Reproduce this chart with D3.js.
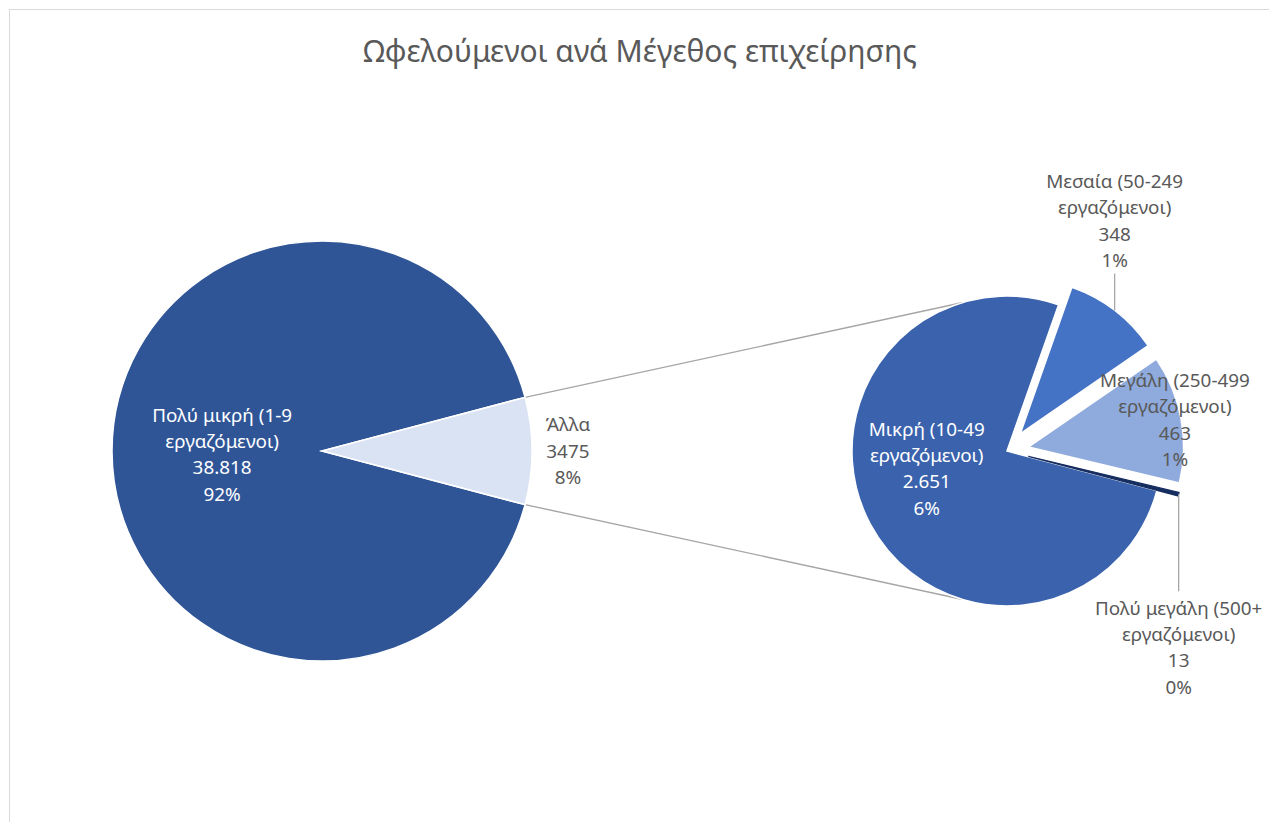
<!DOCTYPE html>
<html><head><meta charset="utf-8">
<script src="https://cdn.jsdelivr.net/npm/d3@7"></script>
<style>body{margin:0;background:#fff}svg{display:block}</style>
</head><body>
<svg id="chart" width="1269" height="822"></svg>
<script>
// ---- data ----
const title = "Ωφελούμενοι ανά Μέγεθος επιχείρησης";
const mainCategories = ["Πολύ μικρή (1-9 εργαζόμενοι)", "Άλλα"];
const mainValues = [38818, 3475];
const subCategories = ["Μικρή (10-49 εργαζόμενοι)", "Μεσαία (50-249 εργαζόμενοι)", "Μεγάλη (250-499 εργαζόμενοι)", "Πολύ μεγάλη (500+ εργαζόμενοι)"];
const subValues = [2651, 348, 463, 13];
const mainColors = ["#2f5597", "#dae3f3"];
const subColors = ["#3a62ad", "#4472c4", "#8faadc", "#162d60"];

// ---- layout ----
const W = 1269, H = 822;
const FONT = "'Noto Sans', 'DejaVu Sans', sans-serif";
const mainC = [322, 451], mainR = 210;
const subC = [1007, 451], subR = 155;
const explode = 22;
const deg = Math.PI / 180;
const svg = d3.select("#chart");

svg.append("rect").attr("x", 9.5).attr("y", 9.5).attr("width", W).attr("height", H)
  .attr("fill", "#fff").attr("stroke", "#d9d9d9");

function fitSize(str, target, base) {
  const t = svg.append("text").attr("font-family", FONT).attr("font-size", base).text(str);
  const w = t.node().getComputedTextLength();
  t.remove();
  return base * target / w;
}
const titleSize = fitSize(title, 554, 24);
const labelSize = fitSize("Πολύ μικρή (1-9", 140, 16);
const lh = 26.3;

svg.append("text").attr("x", 640).attr("y", 51).attr("dy", "0.35em")
  .attr("text-anchor", "middle").attr("font-family", FONT).attr("font-size", titleSize)
  .attr("fill", "#595959").text(title);

// ---- pies ----
const grandTotal = d3.sum(mainValues);
const otherAngle = 2 * Math.PI * mainValues[1] / grandTotal;
const start = Math.PI / 2 + otherAngle / 2;
const pie = d3.pie().sort(null).startAngle(start).endAngle(start + 2 * Math.PI);
const mainArcs = pie(mainValues);
const subArcs = pie(subValues);
const mainArc = d3.arc().innerRadius(0).outerRadius(mainR);
const subArc = d3.arc().innerRadius(0).outerRadius(subR);
const polar = (c, a, d) => [c[0] + d * Math.sin(a), c[1] - d * Math.cos(a)];
const mid = a => (a.startAngle + a.endAngle) / 2;

// connector lines
const pUp = polar(mainC, mainArcs[1].startAngle, mainR);
const pDn = polar(mainC, mainArcs[1].endAngle, mainR);
const qUp = polar(subC, -17 * deg, subR);
const qDn = polar(subC, 197 * deg, subR);
[[pUp, qUp], [pDn, qDn]].forEach(([p, q]) => {
  svg.append("line").attr("x1", p[0]).attr("y1", p[1]).attr("x2", q[0]).attr("y2", q[1])
    .attr("stroke", "#a6a6a6").attr("stroke-width", 1.4);
});

svg.append("g").attr("transform", `translate(${mainC})`)
  .selectAll("path").data(mainArcs).join("path")
  .attr("d", mainArc).attr("fill", (d, i) => mainColors[i])
  .attr("stroke", "#fff").attr("stroke-width", 1.5);

const subCenters = subArcs.map((a, i) => i === 0 ? subC : polar(subC, mid(a), explode));
svg.append("g").selectAll("path").data(subArcs).join("path")
  .attr("transform", (d, i) => `translate(${subCenters[i]})`)
  .attr("d", subArc).attr("fill", (d, i) => subColors[i])
  .attr("stroke", (d, i) => i === 3 ? subColors[3] : "#fff")
  .attr("stroke-width", (d, i) => i === 3 ? 1.2 : 1.5)
  .attr("stroke-linejoin", "miter");

// ---- labels ----
const grLocale = d3.formatLocale({decimal: ",", thousands: ".", grouping: [3], currency: ["", "€"]});
const fmtGroup = grLocale.format(",d");
const fmtPlain = d3.format("d");
const fmtPct = d3.format(".0%");

function splitName(name) {
  const i = name.lastIndexOf(" ");
  return i < 0 ? [name] : [name.slice(0, i), name.slice(i + 1)];
}
function drawBlock(lines, c, color) {
  const y0 = c[1] - (lines.length - 1) / 2 * lh;
  const t = svg.append("text").attr("text-anchor", "middle").attr("font-family", FONT)
    .attr("font-size", labelSize).attr("fill", color);
  lines.forEach((s, k) => t.append("tspan").attr("x", c[0]).attr("y", y0 + k * lh).attr("dy", "0.35em").text(s));
}
function leader(p, q) {
  svg.append("line").attr("x1", p[0]).attr("y1", p[1]).attr("x2", q[0]).attr("y2", q[1])
    .attr("stroke", "#a6a6a6").attr("stroke-width", 1.3);
}
const lines = (name, v, fmt) => [...splitName(name), fmt(v), fmtPct(v / grandTotal)];

drawBlock(lines(mainCategories[0], mainValues[0], fmtGroup), polar(mainC, 268 * deg, 0.476 * mainR), "#ffffff");
drawBlock(lines(mainCategories[1], mainValues[1], fmtPlain), polar(mainC, 90 * deg, 1.171 * mainR), "#595959");

drawBlock(lines(subCategories[0], subValues[0], fmtGroup), polar(subC, 257.7 * deg, 0.53 * subR), "#ffffff");

{ // Μεσαία
  const p0 = polar(subCenters[1], mid(subArcs[1]), subR);
  const p1 = [p0[0], p0[1] - 37];
  leader(p0, p1);
  drawBlock(lines(subCategories[1], subValues[1], fmtGroup), [p0[0], p1[1] - 13 - 1.5 * lh], "#595959");
}
drawBlock(lines(subCategories[2], subValues[2], fmtGroup), polar(subCenters[2], mid(subArcs[2]), 0.96 * subR), "#595959");
{ // Πολύ μεγάλη
  const p0 = polar(subCenters[3], mid(subArcs[3]), subR);
  const p1 = [p0[0], p0[1] + 97];
  leader(p0, p1);
  drawBlock(lines(subCategories[3], subValues[3], fmtGroup), [p0[0], p1[1] + 17 + 1.5 * lh], "#595959");
}
</script>
</body></html>
